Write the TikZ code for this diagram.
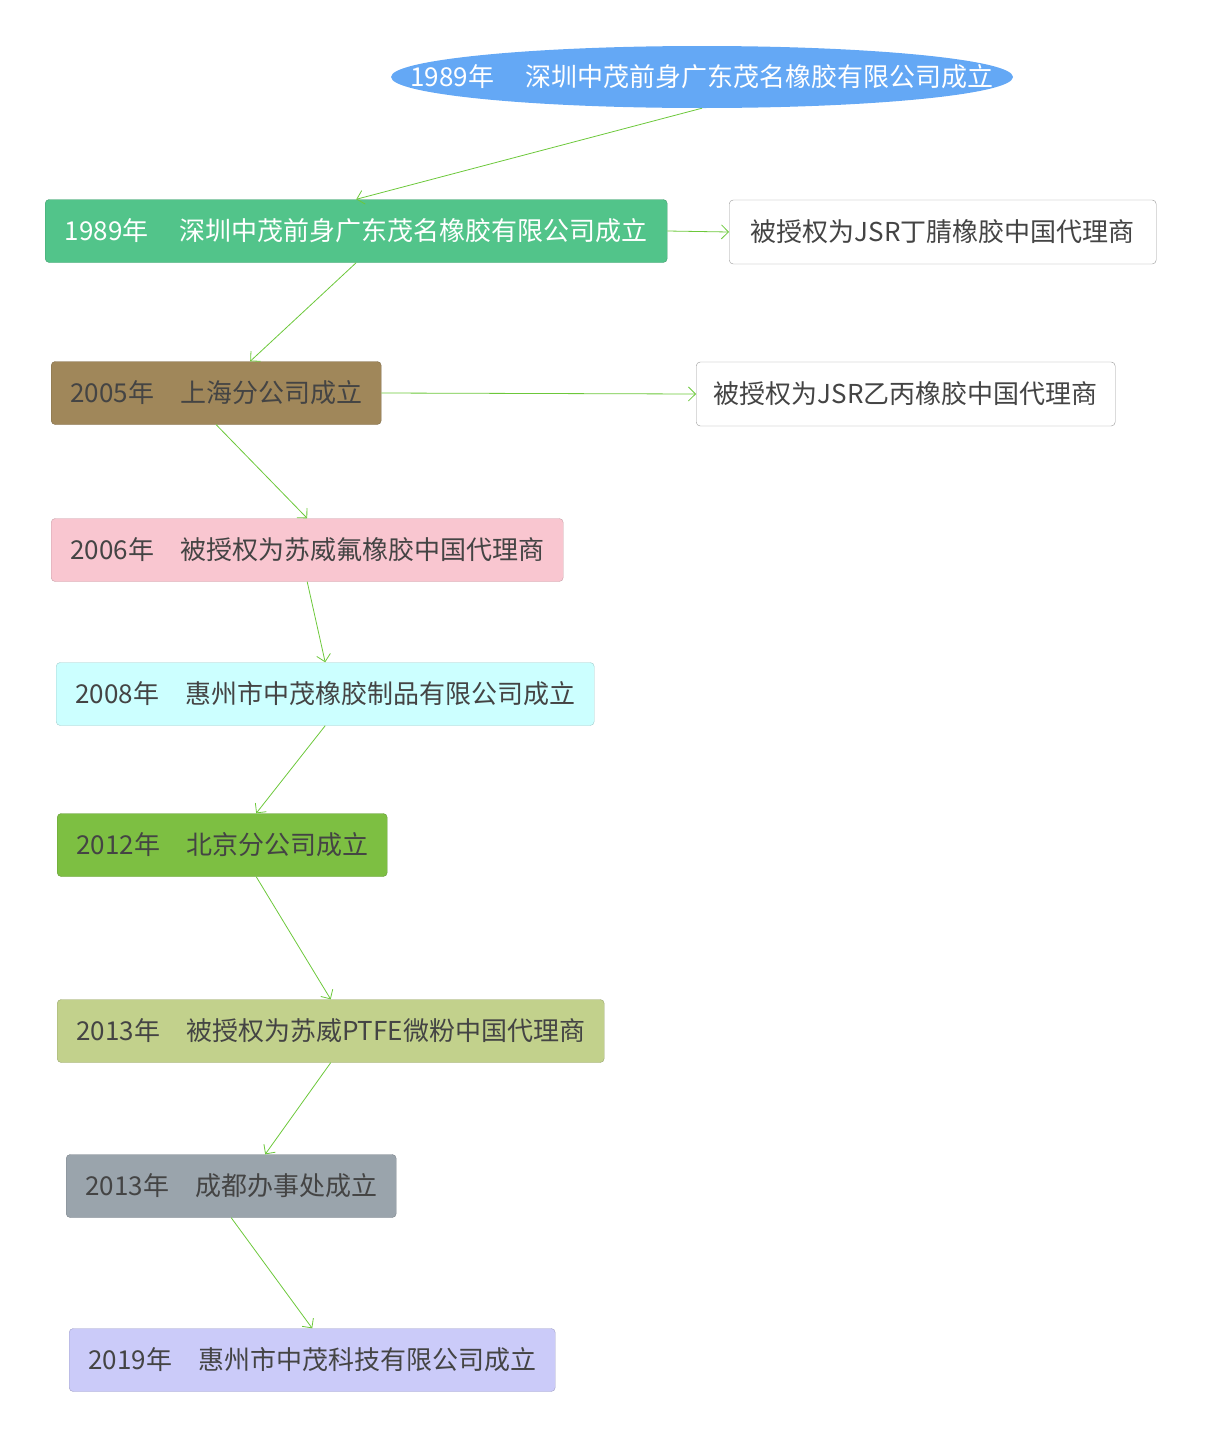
\documentclass[tikz,border=0pt]{standalone}
\usepackage{fontspec}
\setmainfont{Noto Sans CJK SC}
\usetikzlibrary{shapes.geometric,arrows.meta}
\definecolor{skyblue}{HTML}{64A8F5}
\definecolor{mintgreen}{HTML}{52C48A}
\definecolor{khaki}{HTML}{A0875A}
\definecolor{pinkish}{HTML}{F9C6D0}
\definecolor{icecyan}{HTML}{CCFFFF}
\definecolor{leafgreen}{HTML}{7DBF42}
\definecolor{olivelight}{HTML}{C2D18C}
\definecolor{slategray}{HTML}{9AA4AC}
\definecolor{lavender}{HTML}{CBCBF9}
\definecolor{linegreen}{HTML}{6CC83A}
\definecolor{textgray}{HTML}{444444}
\tikzset{
x=1pt, y=1pt,
event/.style={rectangle, rounded corners=4pt, draw=#1!80!black, fill=#1, minimum height=63pt, text=textgray, font=\fontsize{26}{30}\selectfont, anchor=west, inner xsep=0pt},
agent/.style={rectangle, rounded corners=4pt, draw=gray!80, fill=white, minimum height=64pt, text=textgray, font=\fontsize{26}{30}\selectfont, anchor=west, inner xsep=0pt},
link/.style={draw=linegreen, thick, -{Straight Barb[length=7pt,width=14pt]}},
}
\begin{document}
\begin{tikzpicture}
\useasboundingbox (0,0) rectangle (1209,-1446);

\fill[skyblue] (702,-77) ellipse [x radius=311, y radius=31];
\node[rectangle, text=white, minimum width=622pt, minimum height=62pt, font=\fontsize{26}{30}\selectfont, inner sep=0pt] (root) at (702,-77) {1989年\hspace{1.2em}深圳中茂前身广东茂名橡胶有限公司成立};

\node[event=mintgreen, text=white, minimum width=622pt] (n1989) at (45,-231) {1989年\hspace{1.2em}深圳中茂前身广东茂名橡胶有限公司成立};
\node[agent, minimum width=427pt] (jsra) at (729,-232) {被授权为JSR丁腈橡胶中国代理商};
\node[event=khaki, minimum width=330pt] (n2005) at (51,-393) {2005年\hspace{1em}上海分公司成立};
\node[agent, minimum width=419pt] (jsrb) at (696,-394) {被授权为JSR乙丙橡胶中国代理商};
\node[event=pinkish, minimum width=512pt] (n2006) at (51,-550) {2006年\hspace{1em}被授权为苏威氟橡胶中国代理商};
\node[event=icecyan, minimum width=538pt] (n2008) at (56,-694) {2008年\hspace{1em}惠州市中茂橡胶制品有限公司成立};
\node[event=leafgreen, minimum width=330pt] (n2012) at (57,-845) {2012年\hspace{1em}北京分公司成立};
\node[event=olivelight, minimum width=547pt] (n2013a) at (57,-1031) {2013年\hspace{1em}被授权为苏威PTFE微粉中国代理商};
\node[event=slategray, minimum width=330pt] (n2013b) at (66,-1186) {2013年\hspace{1em}成都办事处成立};
\node[event=lavender, minimum width=486pt] (n2019) at (69,-1360) {2019年\hspace{1em}惠州市中茂科技有限公司成立};

\draw[link] (root.south) -- (n1989.north);
\draw[link] (n1989.east) -- (jsra.west);
\draw[link] (n1989.south) -- ([xshift=34pt]n2005.north);
\draw[link] (n2005.east) -- (jsrb.west);
\draw[link] (n2005.south) -- (n2006.north);
\draw[link] (n2006.south) -- (n2008.north);
\draw[link] (n2008.south) -- ([xshift=34pt]n2012.north);
\draw[link] ([xshift=34pt]n2012.south) -- (n2013a.north);
\draw[link] (n2013a.south) -- ([xshift=34pt]n2013b.north);
\draw[link] (n2013b.south) -- (n2019.north);
\end{tikzpicture}
\end{document}
